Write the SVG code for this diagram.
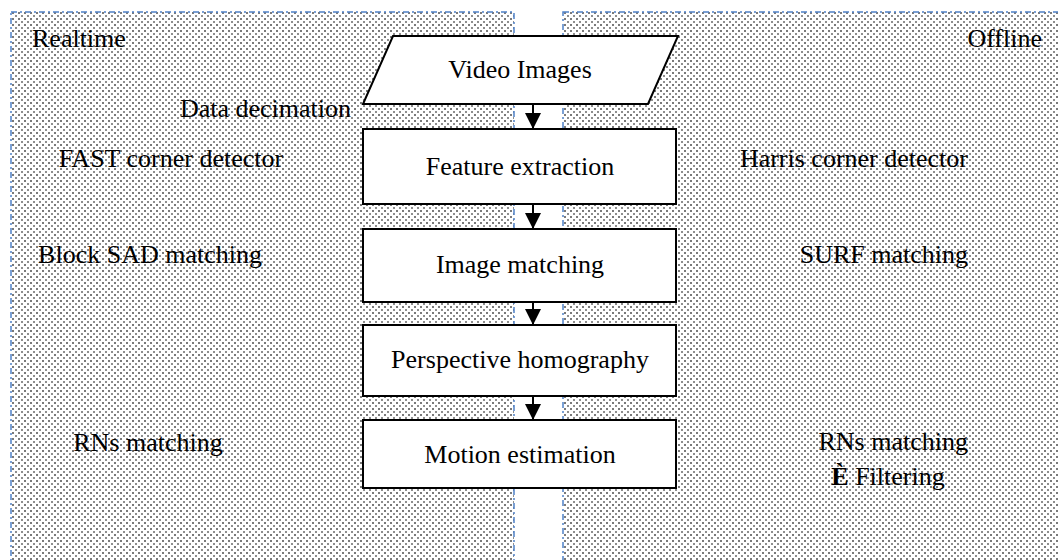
<svg xmlns="http://www.w3.org/2000/svg" width="1058" height="560" viewBox="0 0 1058 560">
<defs>
<pattern id="dots" width="6" height="6" patternUnits="userSpaceOnUse">
<rect x="0" y="0" width="6" height="6" fill="#ffffff"/>
<rect x="0" y="0" width="2" height="2" fill="#7a7a7a"/>
<rect x="3" y="3" width="2" height="2" fill="#8e8e8e"/>
</pattern>
<marker id="arr" viewBox="0 0 16 16" refX="16" refY="8" markerWidth="16" markerHeight="16" markerUnits="userSpaceOnUse" orient="auto">
<path d="M0,0 L16,8 L0,16 Z" fill="#000"/>
</marker>
</defs>
<style>
.panel{fill:url(#dots);stroke:#4f81c7;stroke-width:1.5;stroke-dasharray:6 3 2 3}
.box{fill:#fff;stroke:#000;stroke-width:2}
.t{font-family:"Liberation Serif","Times New Roman",serif;font-size:26px;fill:#000}
.c{text-anchor:middle}
.conn{stroke:#000;stroke-width:2;fill:none;marker-end:url(#arr)}
</style>
<g id="panel-realtime">
<rect class="panel" x="11" y="12" width="503" height="560"/>
<text class="t" x="32" y="47">Realtime</text>
<text class="t" x="351" y="117" text-anchor="end">Data decimation</text>
<text class="t c" x="171" y="167">FAST corner detector</text>
<text class="t c" x="150" y="263">Block SAD matching</text>
<text class="t c" x="148" y="451">RNs matching</text>
</g>
<g id="panel-offline">
<rect class="panel" x="563" y="12" width="520" height="560"/>
<text class="t" x="1042" y="47" text-anchor="end">Offline</text>
<text class="t" x="968" y="167" text-anchor="end">Harris corner detector</text>
<text class="t" x="968" y="263" text-anchor="end">SURF matching</text>
<text class="t" x="968" y="450" text-anchor="end">RNs matching</text>
<text class="t c" x="888" y="485"><tspan font-weight="bold">È</tspan> Filtering</text>
</g>
<g id="connectors">
<line class="conn" x1="533" y1="104" x2="533" y2="129"/>
<line class="conn" x1="533" y1="204" x2="533" y2="229"/>
<line class="conn" x1="533" y1="302" x2="533" y2="325"/>
<line class="conn" x1="533" y1="396" x2="533" y2="420"/>
</g>
<g id="video-images">
<polygon class="box" points="393,36 678,36 648,104 363,104"/>
<text class="t c" x="520" y="78">Video Images</text>
</g>
<g id="feature-extraction">
<rect class="box" x="363" y="129" width="313" height="75"/>
<text class="t c" x="520" y="175">Feature extraction</text>
</g>
<g id="image-matching">
<rect class="box" x="363" y="229" width="313" height="73"/>
<text class="t c" x="520" y="273">Image matching</text>
</g>
<g id="perspective-homography">
<rect class="box" x="363" y="325" width="313" height="71"/>
<text class="t c" x="520" y="368">Perspective homography</text>
</g>
<g id="motion-estimation">
<rect class="box" x="363" y="420" width="313" height="68"/>
<text class="t c" x="520" y="463">Motion estimation</text>
</g>
</svg>
